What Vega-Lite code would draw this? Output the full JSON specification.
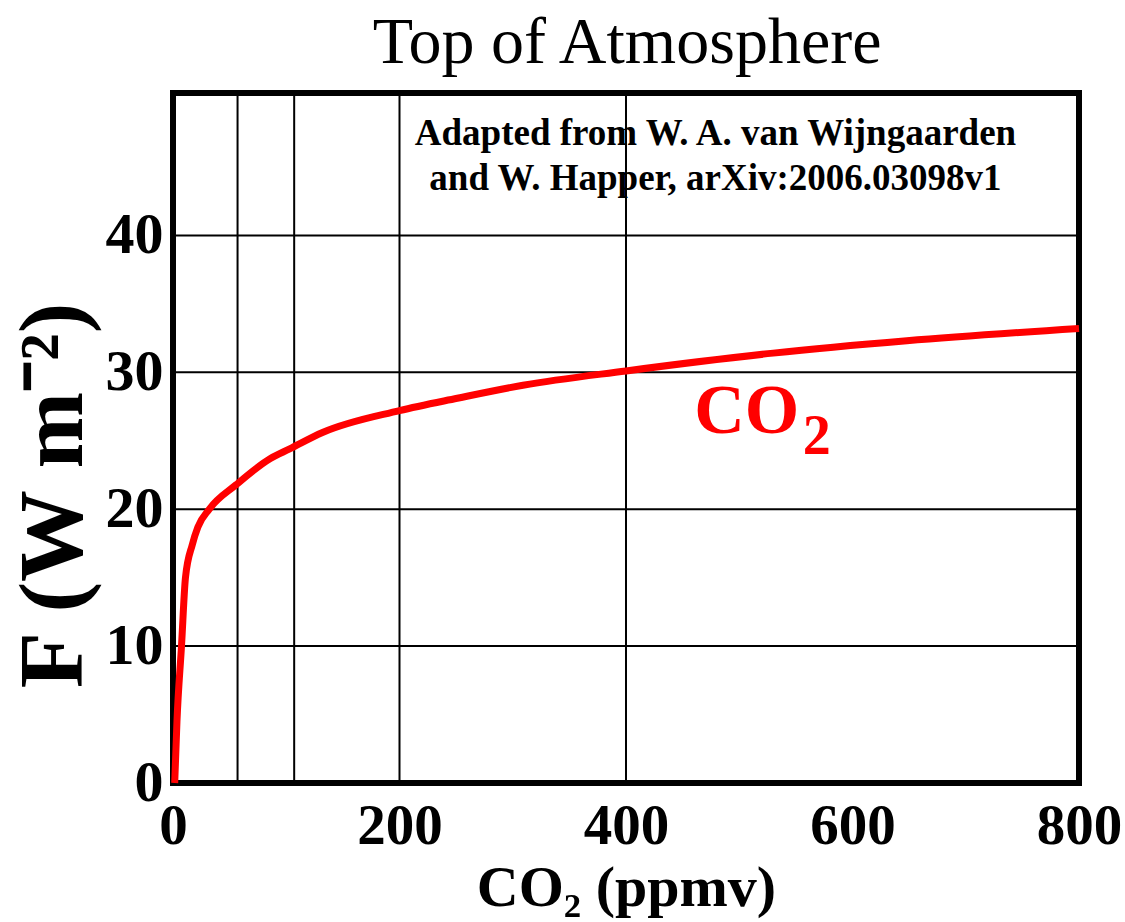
{
  "$schema": "https://vega.github.io/schema/vega-lite/v6.json",
  "width": 906,
  "height": 690,
  "autosize": {"type": "none"},
  "padding": {"left": 173, "top": 93, "right": 46, "bottom": 139},
  "background": "white",
  "config": {
    "view": {"stroke": "black", "strokeWidth": 6},
    "axis": {
      "labelFont": "Liberation Serif",
      "labelFontWeight": "bold",
      "labelColor": "black",
      "labelFlush": false,
      "titleFont": "Liberation Serif",
      "titleFontWeight": "bold",
      "titleColor": "black",
      "grid": false,
      "domain": false,
      "ticks": false
    }
  },
  "datasets": {
    "curve": [
      {"ppm": 1.5, "F": 0},
      {"ppm": 3.5, "F": 4.5},
      {"ppm": 7.5, "F": 10},
      {"ppm": 11, "F": 15},
      {"ppm": 17, "F": 17.4},
      {"ppm": 22, "F": 18.7},
      {"ppm": 32, "F": 20},
      {"ppm": 56, "F": 21.8},
      {"ppm": 86, "F": 23.7},
      {"ppm": 103, "F": 24.4},
      {"ppm": 132, "F": 25.6},
      {"ppm": 200, "F": 27.2},
      {"ppm": 251, "F": 28.1},
      {"ppm": 309, "F": 29.05},
      {"ppm": 400, "F": 30.1},
      {"ppm": 530, "F": 31.4},
      {"ppm": 648, "F": 32.3},
      {"ppm": 800, "F": 33.2}
    ],
    "vgrid": [{"g": 57}, {"g": 107}, {"g": 200}, {"g": 400}],
    "hgrid": [{"h": 10}, {"h": 20}, {"h": 30}, {"h": 40}],
    "heading": [{"x": 401, "y": 52.6, "t": "Top of Atmosphere"}],
    "note": [
      {"x": 479, "y": 46.6, "t": "Adapted from W. A. van Wijngaarden"},
      {"x": 479, "y": 43.3, "t": "and W. Happer, arXiv:2006.03098v1"}
    ],
    "co": [{"x": 553, "y": 25.6, "t": "CO"}],
    "sub": [{"x": 556, "y": 24.0, "t": "2"}]
  },
  "layer": [
    {
      "data": {"name": "curve"},
      "mark": {"type": "line", "color": "#ff0000", "strokeWidth": 0, "opacity": 0},
      "encoding": {
        "x": {
          "field": "ppm", "type": "quantitative",
          "title": "CO₂ (ppmv)",
          "scale": {"domain": [0, 800], "nice": false, "zero": false},
          "axis": {
            "values": [0, 200, 400, 600, 800],
            "labelFontSize": 57,
            "labelPadding": 15,
            "titleFontSize": 58,
            "titlePadding": 5
          }
        },
        "y": {
          "field": "F", "type": "quantitative",
          "title": "F (W m⁻²)",
          "scale": {"domain": [0, 50.4], "nice": false, "zero": false},
          "axis": {
            "values": [0, 10, 20, 30, 40],
            "labelFontSize": 58,
            "labelPadding": 10,
            "titleFontSize": 92,
            "titleAngle": -90,
            "titleBaseline": "alphabetic",
            "titleX": -92,
            "titleY": 402,
            "titleAlign": "center"
          }
        }
      }
    },
    {
      "data": {"name": "vgrid"},
      "mark": {"type": "rule", "color": "black", "strokeWidth": 2},
      "encoding": {
        "x": {"field": "g", "type": "quantitative", "title": "CO₂ (ppmv)"}
      }
    },
    {
      "data": {"name": "hgrid"},
      "mark": {"type": "rule", "color": "black", "strokeWidth": 2},
      "encoding": {
        "y": {"field": "h", "type": "quantitative", "title": "F (W m⁻²)"}
      }
    },
    {
      "data": {"name": "curve"},
      "mark": {"type": "line", "color": "#ff0000", "strokeWidth": 7, "interpolate": "monotone", "strokeCap": "butt"},
      "encoding": {
        "x": {"field": "ppm", "type": "quantitative", "title": "CO₂ (ppmv)"},
        "y": {"field": "F", "type": "quantitative", "title": "F (W m⁻²)"}
      }
    },
    {
      "data": {"name": "heading"},
      "mark": {"type": "text", "font": "Liberation Serif", "fontWeight": "normal", "fontSize": 66, "color": "black", "align": "center", "baseline": "alphabetic"},
      "encoding": {
        "x": {"field": "x", "type": "quantitative", "title": "CO₂ (ppmv)"},
        "y": {"field": "y", "type": "quantitative", "title": "F (W m⁻²)"},
        "text": {"field": "t"}
      }
    },
    {
      "data": {"name": "note"},
      "mark": {"type": "text", "font": "Liberation Serif", "fontWeight": "bold", "fontSize": 37, "color": "black", "align": "center", "baseline": "alphabetic"},
      "encoding": {
        "x": {"field": "x", "type": "quantitative", "title": "CO₂ (ppmv)"},
        "y": {"field": "y", "type": "quantitative", "title": "F (W m⁻²)"},
        "text": {"field": "t"}
      }
    },
    {
      "data": {"name": "co"},
      "mark": {"type": "text", "font": "Liberation Serif", "fontWeight": "bold", "fontSize": 70, "color": "#ff0000", "align": "right", "baseline": "alphabetic"},
      "encoding": {
        "x": {"field": "x", "type": "quantitative", "title": "CO₂ (ppmv)"},
        "y": {"field": "y", "type": "quantitative", "title": "F (W m⁻²)"},
        "text": {"field": "t"}
      }
    },
    {
      "data": {"name": "sub"},
      "mark": {"type": "text", "font": "Liberation Serif", "fontWeight": "bold", "fontSize": 56, "color": "#ff0000", "align": "left", "baseline": "alphabetic"},
      "encoding": {
        "x": {"field": "x", "type": "quantitative", "title": "CO₂ (ppmv)"},
        "y": {"field": "y", "type": "quantitative", "title": "F (W m⁻²)"},
        "text": {"field": "t"}
      }
    }
  ]
}
